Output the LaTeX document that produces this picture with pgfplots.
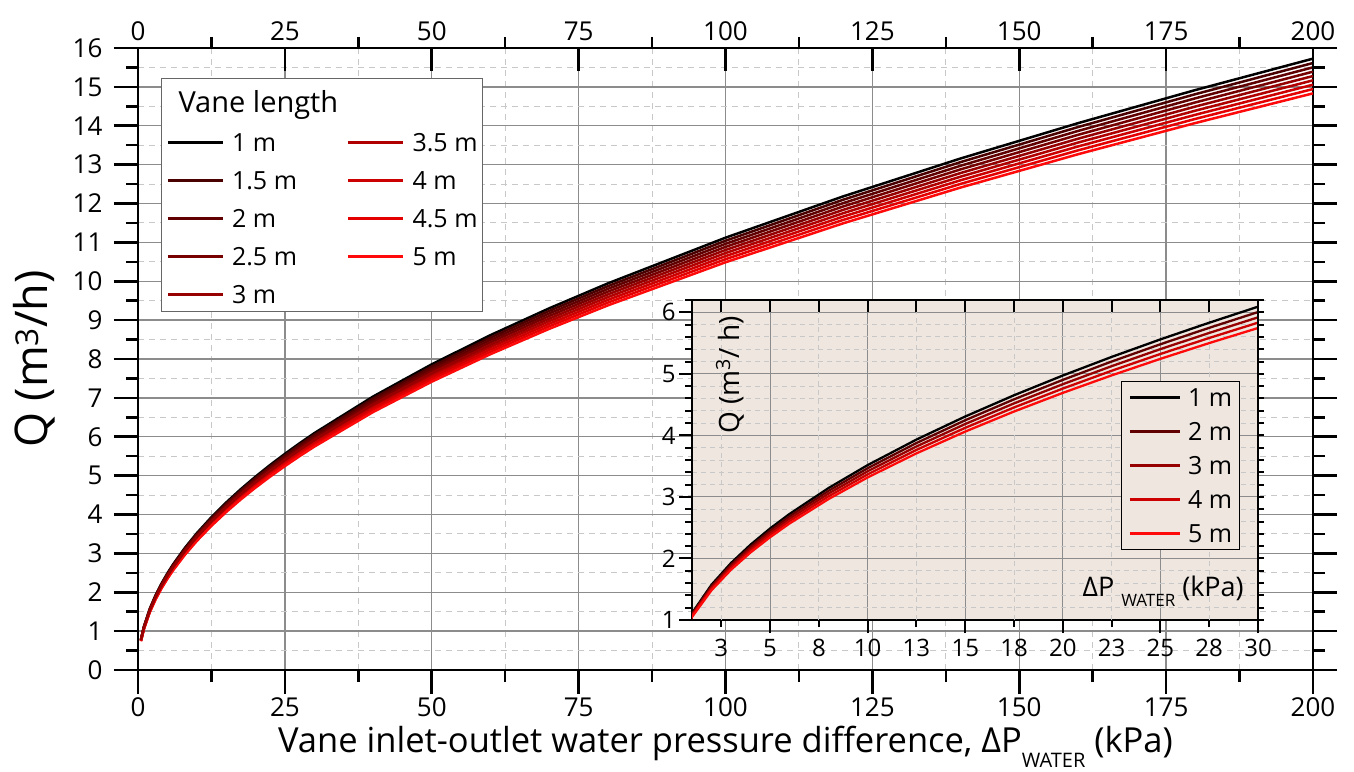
\documentclass[border=0pt]{standalone}
\usepackage{pgfplots}
\pgfplotsset{compat=1.18}
\usepackage{pgfplotstable}
\usepackage{fontspec}
\setmainfont{Open Sans}
\definecolor{cA}{RGB}{0,0,0}
\definecolor{cB}{RGB}{75,0,0}
\definecolor{cC}{RGB}{96,0,0}
\definecolor{cD}{RGB}{118,0,0}
\definecolor{cE}{RGB}{150,0,0}
\definecolor{cF}{RGB}{176,0,0}
\definecolor{cG}{RGB}{204,0,0}
\definecolor{cH}{RGB}{228,0,0}
\definecolor{cI}{RGB}{255,10,10}
\definecolor{insetbg}{RGB}{238,230,223}
\definecolor{gridmaj}{RGB}{140,140,140}
\definecolor{gridmin}{RGB}{200,200,200}

\pgfplotstableread{
P L10 L15 L20 L25 L30 L35 L40 L45 L50
0.5 0.786 0.780 0.775 0.769 0.764 0.758 0.753 0.747 0.741
1 1.112 1.104 1.096 1.088 1.080 1.073 1.065 1.057 1.049
2 1.573 1.562 1.550 1.539 1.528 1.517 1.506 1.495 1.484
3 1.926 1.912 1.899 1.885 1.871 1.858 1.844 1.830 1.817
4 2.224 2.208 2.192 2.177 2.161 2.145 2.129 2.113 2.098
5 2.487 2.469 2.451 2.434 2.416 2.398 2.381 2.363 2.345
6 2.724 2.705 2.685 2.666 2.647 2.627 2.608 2.588 2.569
8 3.145 3.123 3.100 3.078 3.056 3.034 3.011 2.989 2.966
10 3.517 3.492 3.467 3.442 3.417 3.392 3.367 3.342 3.317
12.5 3.932 3.904 3.876 3.848 3.820 3.792 3.764 3.736 3.708
15 4.307 4.276 4.246 4.215 4.185 4.154 4.123 4.093 4.062
17.5 4.652 4.619 4.586 4.553 4.520 4.487 4.454 4.421 4.388
20 4.973 4.938 4.902 4.867 4.832 4.796 4.761 4.726 4.691
22.5 5.275 5.237 5.200 5.162 5.125 5.088 5.050 5.013 4.975
25 5.560 5.521 5.481 5.442 5.402 5.363 5.323 5.284 5.244
27.5 5.831 5.790 5.748 5.707 5.665 5.624 5.583 5.541 5.500
30 6.091 6.048 6.004 5.961 5.918 5.875 5.832 5.788 5.745
40 7.033 6.983 6.933 6.883 6.833 6.783 6.733 6.683 6.634
50 7.863 7.807 7.751 7.696 7.640 7.584 7.528 7.472 7.416
60 8.614 8.553 8.491 8.430 8.369 8.308 8.247 8.186 8.125
70 9.304 9.238 9.172 9.106 9.040 8.974 8.908 8.842 8.776
80 9.946 9.875 9.805 9.734 9.664 9.593 9.522 9.452 9.381
100 11.120 11.041 10.962 10.883 10.804 10.725 10.646 10.567 10.488
120 12.181 12.095 12.008 11.922 11.835 11.749 11.662 11.576 11.489
140 13.157 13.064 12.970 12.877 12.783 12.690 12.597 12.503 12.410
160 14.066 13.966 13.866 13.766 13.666 13.567 13.467 13.367 13.267
180 14.919 14.813 14.707 14.601 14.495 14.389 14.283 14.177 14.071
200 15.726 15.614 15.503 15.391 15.279 15.168 15.056 14.944 14.833
}\qdata

\begin{document}
\begin{tikzpicture}
\useasboundingbox (-138pt,-101pt) rectangle (1216pt,670pt);
% ---------------- main axis ----------------
\begin{axis}[
  at={(0pt,0pt)}, anchor=south west,
  scale only axis, width=1175pt, height=622pt,
  xmin=0, xmax=200, ymin=0, ymax=16,
  xtick={0,25,...,200}, minor xtick={12.5,37.5,...,187.5},
  ytick={0,1,...,16}, minor ytick={0.5,1.5,...,15.5},
  grid=both,
  major grid style={gridmaj, line width=1.3pt},
  minor grid style={gridmin, line width=1.1pt, dash pattern=on 6pt off 5pt},
  axis line style={line width=2.6pt, black},
  xtick pos=bottom, ytick pos=both, yticklabel pos=left,
  tick align=outside,
  major tick length=24pt, minor tick length=12pt,
  every tick/.style={black, line width=2.6pt},
  /pgf/number format/assume math mode=true,
  tick label style={font=\fontsize{26}{30}\selectfont},
  yticklabel style={xshift=-8pt},
  xticklabel style={yshift=0pt},
  xlabel={Vane inlet-outlet water pressure difference, ΔP\raisebox{-0.42em}{\fontsize{20}{20}\selectfont WATER} (kPa)},
  xlabel style={at={(axis description cs:0.5,-0.1334)}, anchor=base, font=\fontsize{34.5}{38}\selectfont},
  ylabel={Q (m\textsuperscript{3}/h)},
  ylabel style={at={(axis description cs:-0.0766,0.5)}, anchor=base, font=\fontsize{45}{52}\selectfont},
  legend columns=2,
  legend cell align=left,
  legend image code/.code={\draw[#1, line width=2.5pt] (0pt,0pt) -- (55pt,0pt);},
  legend style={at={(rel axis cs:0.0196,0.9518)}, anchor=north west,
    draw=gray!80!black, line width=1pt, fill=white,
    font=\fontsize{25}{29}\selectfont,
    inner xsep=5pt, inner ysep=8pt, row sep=20pt,
    nodes={inner sep=0pt, text height=18pt, text depth=0pt},
    /tikz/every odd column/.append style={column sep=8pt},
    /tikz/every even column/.append style={column sep=50pt}},
]
\addlegendimage{legend image code/.code={\path[draw=none] (0pt,-18pt) -- (0pt,0pt);}}
\addlegendentry{\makebox[0pt][l]{\hspace*{-54pt}\raisebox{-8pt}{\fontsize{29}{33}\selectfont Vane length}}}
\addlegendimage{empty legend}\addlegendentry{}
\addplot[cA, line width=2.5pt] table[x=P, y=L10] {\qdata};
\addlegendentry{1 m}
\addplot[cF, line width=2.5pt] table[x=P, y=L35] {\qdata};
\addlegendentry{3.5 m}
\addplot[cB, line width=2.5pt] table[x=P, y=L15] {\qdata};
\addlegendentry{1.5 m}
\addplot[cG, line width=2.5pt] table[x=P, y=L40] {\qdata};
\addlegendentry{4 m}
\addplot[cC, line width=2.5pt] table[x=P, y=L20] {\qdata};
\addlegendentry{2 m}
\addplot[cH, line width=2.5pt] table[x=P, y=L45] {\qdata};
\addlegendentry{4.5 m}
\addplot[cD, line width=2.5pt] table[x=P, y=L25] {\qdata};
\addlegendentry{2.5 m}
\addplot[cI, line width=2.5pt] table[x=P, y=L50] {\qdata};
\addlegendentry{5 m}
\addplot[cE, line width=2.5pt] table[x=P, y=L30] {\qdata};
\addlegendentry{3 m}
\end{axis}
% ---------------- top axis: major ticks inside with labels ----------------
\begin{axis}[
  at={(0pt,0pt)}, anchor=south west,
  scale only axis, width=1175pt, height=622pt,
  xmin=0, xmax=200, ymin=0, ymax=16,
  axis x line*=top, axis y line=none,
  xtick={0,25,...,200},
  tick align=inside, major tick length=23pt,
  every tick/.style={black, line width=2.6pt},
  axis line style={line width=2.6pt, black, -},
  /pgf/number format/assume math mode=true,
  tick label style={font=\fontsize{26}{30}\selectfont},
  xticklabel style={yshift=4pt},
]
\end{axis}
% ---------------- top axis: minor ticks outside ----------------
\begin{axis}[
  at={(0pt,0pt)}, anchor=south west,
  scale only axis, width=1175pt, height=622pt,
  xmin=0, xmax=200, ymin=0, ymax=16,
  axis x line*=top, axis y line=none,
  xtick={12.5,37.5,...,187.5}, xticklabels={},
  tick align=outside, major tick length=11pt,
  every tick/.style={black, line width=2.6pt},
  axis line style={line width=2.6pt, black, -},
]
\end{axis}
% ---------------- inset ----------------
\begin{axis}[
  at={(554pt,50pt)}, anchor=south west,
  scale only axis, width=566pt, height=320pt,
  xmin=1, xmax=30, ymin=1, ymax=6.2,
  axis background/.style={fill=insetbg},
  xtick={5,10,...,30},
  extra x ticks={2.5,7.5,...,27.5}, extra x tick labels={3,8,13,18,23,28},
  extra x tick style={major tick length=7pt, grid=major,
     xticklabel style={yshift=-6pt},
     major grid style={gridmin, line width=1pt, dash pattern=on 5pt off 4pt}},
  ytick={1,2,...,6}, minor ytick={1.2,1.4,1.6,1.8,2.2,2.4,2.6,2.8,3.2,3.4,3.6,3.8,4.2,4.4,4.6,4.8,5.2,5.4,5.6,5.8,6.2},
  grid=both,
  major grid style={gridmaj, line width=1.1pt},
  minor grid style={gridmin, line width=1pt, dash pattern=on 5pt off 4pt},
  axis line style={line width=2pt, black},
  xtick pos=bottom, ytick pos=left,
  tick align=outside, major tick length=13pt, minor tick length=7pt,
  every tick/.style={black, line width=2pt},
  /pgf/number format/assume math mode=true,
  tick label style={font=\fontsize{24}{28}\selectfont},
  xticklabel style={yshift=-3pt},
  legend cell align=left,
  legend image code/.code={\draw[#1, line width=2.5pt] (0pt,0pt) -- (50pt,0pt);},
  legend style={at={(rel axis cs:0.758,0.747)}, anchor=north west,
    draw=black, line width=1.2pt, fill=insetbg,
    font=\fontsize{25}{29}\selectfont,
    inner xsep=7pt, inner ysep=7pt, row sep=16pt,
    nodes={inner sep=0pt, text height=18pt, text depth=0pt},
    /tikz/every odd column/.append style={column sep=7pt}},
]
\addplot[cA, line width=2.3pt] table[x=P, y=L10] {\qdata};
\addlegendentry{1 m}
\addplot[cC, line width=2.3pt] table[x=P, y=L20] {\qdata};
\addlegendentry{2 m}
\addplot[cE, line width=2.3pt] table[x=P, y=L30] {\qdata};
\addlegendentry{3 m}
\addplot[cG, line width=2.3pt] table[x=P, y=L40] {\qdata};
\addlegendentry{4 m}
\addplot[cI, line width=2.3pt] table[x=P, y=L50] {\qdata};
\addlegendentry{5 m}
\node[rotate=90, font=\fontsize{28}{32}\selectfont] at (rel axis cs:0.067,0.766) {Q (m\textsuperscript{3}/ h)};
\node[anchor=base east, font=\fontsize{27}{32}\selectfont] at (rel axis cs:0.981,0.075) {ΔP \raisebox{-0.4em}{\fontsize{17}{17}\selectfont WATER} (kPa)};
\end{axis}
% inset top ticks (inside)
\begin{axis}[
  at={(554pt,50pt)}, anchor=south west,
  scale only axis, width=566pt, height=320pt,
  xmin=1, xmax=30, ymin=1, ymax=6.2,
  axis x line*=top, axis y line=none,
  xtick={2.5,5,...,30}, xticklabels={},
  tick align=inside, major tick length=12pt,
  every tick/.style={black, line width=2pt},
  axis line style={line width=2pt, black, -},
]
\end{axis}
% inset right ticks (outside)
\begin{axis}[
  at={(554pt,50pt)}, anchor=south west,
  scale only axis, width=566pt, height=320pt,
  xmin=1, xmax=30, ymin=1, ymax=6.2,
  axis y line*=right, axis x line=none,
  ytick={1,1.2,...,6.2}, yticklabels={},
  tick align=outside, major tick length=6pt,
  every tick/.style={black, line width=2pt},
  axis line style={line width=2pt, black, -},
]
\end{axis}
\end{tikzpicture}
\end{document}
